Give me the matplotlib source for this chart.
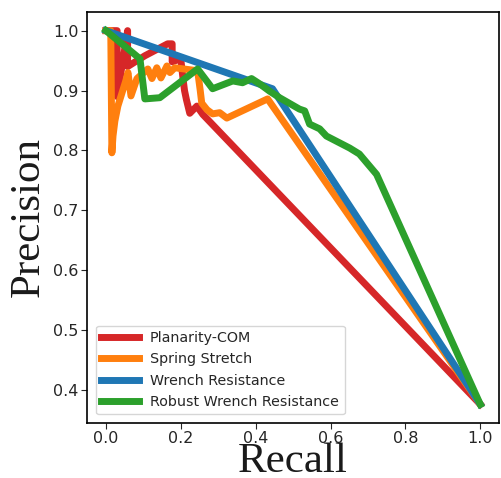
import matplotlib
matplotlib.use("Agg")
import matplotlib.pyplot as plt

# precision / recall curves
planarity_recall = [0.0, 0.03, 0.03, 0.058, 0.058, 0.104, 0.165, 0.177, 0.177, 0.2, 0.205,
                    0.21, 0.215, 0.224, 0.243, 0.259, 1.0]
planarity_prec = [1.0, 1.0, 0.89, 1.0, 0.94, 0.958, 0.978, 0.978, 0.948, 0.953, 0.925,
                  0.90, 0.885, 0.862, 0.874, 0.860, 0.376]

spring_recall = [0.0, 0.013, 0.016, 0.019, 0.024, 0.032, 0.043, 0.053, 0.059, 0.067, 0.083,
                 0.112, 0.123, 0.136, 0.147, 0.163, 0.171, 0.184, 0.245, 0.252, 0.256,
                 0.27, 0.285, 0.304, 0.323, 0.432, 1.0]
spring_prec = [1.0, 1.0, 0.796, 0.824, 0.849, 0.874, 0.896, 0.916, 0.930, 0.891, 0.92,
               0.936, 0.920, 0.938, 0.921, 0.941, 0.930, 0.938, 0.933, 0.90, 0.879,
               0.868, 0.861, 0.863, 0.854, 0.886, 0.376]

wrench_recall = [0.0, 0.445, 1.0]
wrench_prec = [1.0, 0.903, 0.376]

robust_recall = [0.0, 0.091, 0.104, 0.144, 0.245, 0.285, 0.339, 0.365, 0.389, 0.411, 0.437,
                 0.464, 0.517, 0.531, 0.544, 0.571, 0.589, 0.651, 0.677, 0.723, 1.0]
robust_prec = [1.0, 0.953, 0.886, 0.888, 0.936, 0.903, 0.916, 0.913, 0.920, 0.911, 0.899,
               0.888, 0.869, 0.866, 0.844, 0.836, 0.824, 0.804, 0.794, 0.760, 0.376]

labels = ["Planarity-COM", "Spring Stretch", "Wrench Resistance", "Robust Wrench Resistance"]
colors = ["#d62728", "#ff7f0e", "#1f77b4", "#2ca02c"]

fig = plt.figure(figsize=(5.01, 4.78), dpi=100)
ax = fig.add_axes([0.174, 0.115, 0.822, 0.86])

curves = [(planarity_recall, planarity_prec), (spring_recall, spring_prec),
          (wrench_recall, wrench_prec), (robust_recall, robust_prec)]
for (r, p), lab, col in zip(curves, labels, colors):
    ax.plot(r, p, color=col, linewidth=5, label=lab)

ax.set_xticks([0.0, 0.2, 0.4, 0.6, 0.8, 1.0])
ax.set_yticks([0.4, 0.5, 0.6, 0.7, 0.8, 0.9, 1.0])
ax.tick_params(labelsize=11.5, colors="#262626", length=4, pad=2)
for s in ax.spines.values():
    s.set_color("black")
    s.set_linewidth(1.2)

ax.set_xlabel("Recall", fontsize=31, family="Liberation Serif", color="#1a1a1a", labelpad=-3)
ax.set_ylabel("Precision", fontsize=31, family="Liberation Serif", color="#1a1a1a", labelpad=4)

leg = ax.legend(loc="lower left", fontsize=10.3, handlelength=2.6, borderaxespad=0.6)
for t in leg.get_texts():
    t.set_color("#262626")

fig.savefig("out.png", dpi=100)
